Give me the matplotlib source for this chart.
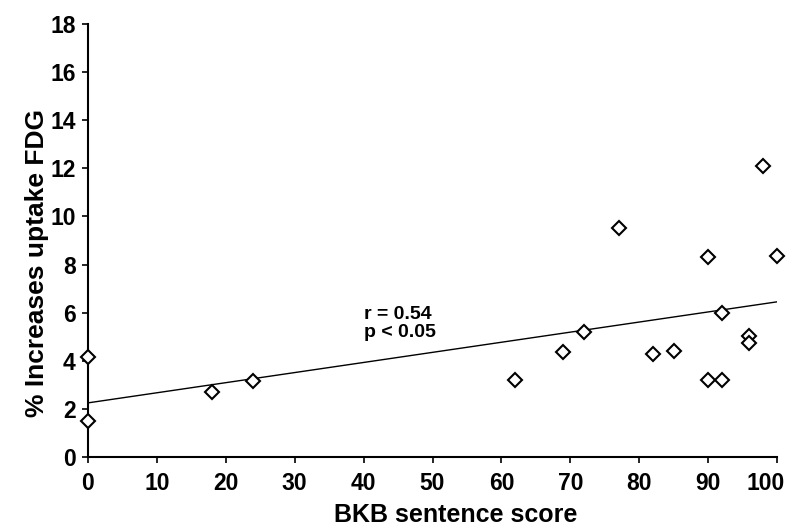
import matplotlib
matplotlib.use("Agg")
import matplotlib.pyplot as plt
from matplotlib.transforms import ScaledTranslation
import numpy as np

bkb_score = [0, 0, 18, 24, 62, 69, 72, 77, 82, 85, 90, 90, 92, 92, 96, 96, 98, 100]
fdg_increase = [4.15, 1.5, 2.7, 3.15, 3.2, 4.35, 5.2, 9.5, 4.3, 4.4, 8.3, 3.2, 6.0, 3.2, 5.05, 4.75, 12.1, 8.35]
fit_x = [0, 100]
fit_y = [2.25, 6.45]
x_ticks = [0, 10, 20, 30, 40, 50, 60, 70, 80, 90, 100]
y_ticks = [0, 2, 4, 6, 8, 10, 12, 14, 16, 18]

plt.rcParams['font.family'] = ['Liberation Sans', 'DejaVu Sans']

W, H = 791, 526
fig = plt.figure(figsize=(W / 100, H / 100), dpi=100)
ax = fig.add_axes([88 / W, (H - 457) / H, (777 - 88) / W, (457 - 24) / H])

ax.plot(fit_x, fit_y, color='black', lw=1.0)
ax.plot(bkb_score, fdg_increase, linestyle='none', marker='D', markersize=7,
        markerfacecolor='white', markeredgecolor='black', markeredgewidth=1.5, clip_on=False, zorder=3)

ax.set_xlim(0, 100)
ax.set_ylim(0, 18)
ax.set_xticks(x_ticks)
ax.set_yticks(y_ticks)
for s in ['top', 'right']:
    ax.spines[s].set_visible(False)
for s in ['left', 'bottom']:
    ax.spines[s].set_linewidth(1.5)
ax.tick_params(direction='out', length=4, width=1.2, labelsize=16.5)
ax.tick_params(axis='x', pad=7)
ax.tick_params(axis='y', pad=5)
for lab in ax.get_xticklabels() + ax.get_yticklabels():
    lab.set_fontweight('bold')
last = ax.get_xticklabels()[-1]
last.set_transform(last.get_transform() + ScaledTranslation(-0.11, 0, fig.dpi_scale_trans))

fig.text(455.5 / W, (H - 522) / H, 'BKB sentence score', fontsize=18, fontweight='bold',
         ha='center', va='baseline')
fig.text(37.5 / W, (H - 263) / H, '% Increases uptake FDG', fontsize=19, fontweight='bold',
         ha='center', va='center', rotation=90)

ax.text(40.0, 5.74, 'r = 0.54', fontsize=14, fontweight='bold', va='baseline', ha='left')
ax.text(40.0, 5.0, 'p < 0.05', fontsize=14, fontweight='bold', va='baseline', ha='left')

fig.savefig('out.png', dpi=100)
